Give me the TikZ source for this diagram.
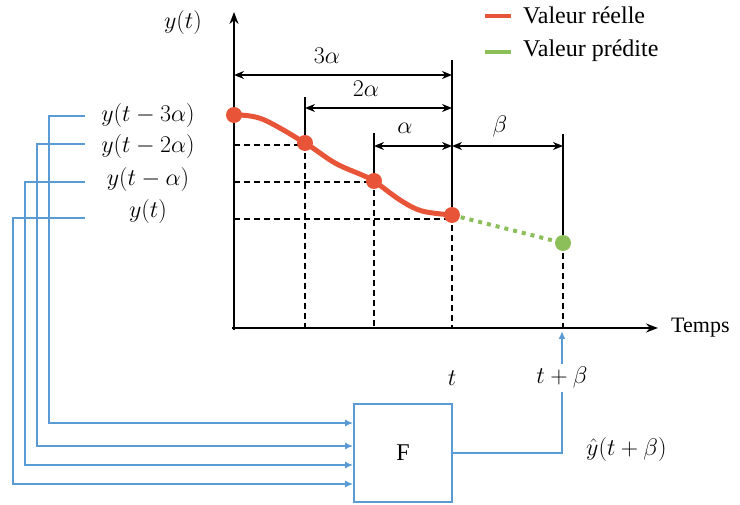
\RequirePackage{fix-cm}
\documentclass[tikz,border=0pt]{standalone}
\usepackage{fontspec}
\setmainfont{Liberation Serif}
\usetikzlibrary{arrows.meta}
\definecolor{realred}{RGB}{232,84,56}
\definecolor{predgreen}{RGB}{140,190,90}
\definecolor{linkblue}{RGB}{91,155,213}
\tikzset{
  axisline/.style={line width=1.8pt, -{Stealth[length=12pt,width=9pt]}},
  dimline/.style={line width=1.6pt, {Stealth[length=10pt,width=8pt]}-{Stealth[length=10pt,width=8pt]}},
  solidline/.style={line width=1.8pt},
  dashline/.style={line width=1.5pt, dashed, dash pattern=on 6pt off 4pt},
  rdot/.style={circle, fill=realred, inner sep=0pt, minimum size=16pt},
  gdot/.style={circle, fill=predgreen, inner sep=0pt, minimum size=16pt},
  bline/.style={draw=linkblue, line width=1.6pt},
  barrow/.style={bline, -{Latex[length=8pt,width=7pt]}},
  lbl/.style={font=\fontsize{24}{28}\selectfont, inner sep=1pt},
  txt/.style={font=\fontsize{22}{26}\selectfont, inner sep=1pt},
  legtxt/.style={font=\fontsize{24}{28}\selectfont, inner sep=1pt}
}
\begin{document}
\begin{tikzpicture}[x=1pt,y=-1pt]
\useasboundingbox (0,0) rectangle (740,505);
% axes
\coordinate (o) at (234,330);
\coordinate (ytip) at (234,12);
\coordinate (xtip) at (658,328);
\draw[axisline] (o) -- (ytip);
\draw[axisline] (232,328) -- (xtip);
\node[lbl] (ylab) at (183,23) {$y(t)$};
\node[txt, anchor=west] (temps) at (670,328) {Temps};
% dashed helpers
\draw[dashline] (234,145) -- (305,145);
\draw[dashline] (234,182) -- (374,182);
\draw[dashline] (234,219) -- (452,219);
\draw[dashline] (305,143) -- (305,328);
\draw[dashline] (374,180) -- (374,328);
\draw[dashline] (452,215) -- (452,328);
\draw[dashline] (563,243) -- (563,328);
% solid verticals
\draw[solidline] (452,60) -- (452,215);
\draw[solidline] (305,97) -- (305,143);
\draw[solidline] (374,133) -- (374,180);
\draw[solidline] (563,134) -- (563,243);
% dimensions
\draw[dimline] (234,75) -- (452,75);
\node[lbl] (d3) at (327,56) {$3\alpha$};
\draw[dimline] (305,108) -- (452,108);
\node[lbl] (d2) at (366,89) {$2\alpha$};
\draw[dimline] (374,146) -- (452,146);
\node[lbl] (d1) at (405,128) {$\alpha$};
\draw[dimline] (452,146) -- (563,146);
\node[lbl] (db) at (500,127) {$\beta$};
% prediction
\draw[predgreen, line width=4pt, dash pattern=on 4pt off 5pt] (452,215) -- (563,243);
% real curve
\draw[realred, line width=5pt, line cap=round] plot[smooth, tension=0.6] coordinates {(234,115) (262,119) (305,143) (335,163) (362,175) (374,181) (400,200) (422,211) (452,215)};
\node[rdot] (p0) at (234,115) {};
\node[rdot] (p1) at (305,143) {};
\node[rdot] (p2) at (374,181) {};
\node[rdot] (p3) at (452,215) {};
\node[gdot] (pg) at (563,243) {};
% legend
\draw[realred, line width=4pt] (485,16) -- (511,16);
\node[legtxt, anchor=west] (lr) at (522,15) {Valeur réelle};
\draw[predgreen, line width=4pt] (485,52) -- (511,52);
\node[legtxt, anchor=west] (lp) at (522,51) {Valeur prédite};
% left labels
\node[lbl] (l1) at (148,116) {$y(t-3\alpha)$};
\node[lbl] (l2) at (148,147) {$y(t-2\alpha)$};
\node[lbl] (l3) at (148,180) {$y(t-\alpha)$};
\node[lbl] (l4) at (148,212) {$y(t)$};
% box
\node[draw=linkblue, line width=1.6pt, minimum width=98pt, minimum height=98pt, font=\fontsize{24}{28}\selectfont] (F) at (403,453) {F};
% inputs
\coordinate (s1) at (85,116);
\coordinate (s2) at (85,144);
\coordinate (s3) at (85,182);
\coordinate (s4) at (85,218);
\draw[barrow] (s1) -- (49,116) |- (F.west |- 0,423);
\draw[barrow] (s2) -- (37,144) |- (F.west |- 0,446);
\draw[barrow] (s3) -- (25,182) |- (F.west |- 0,465);
\draw[barrow] (s4) -- (13,218) |- (F.west |- 0,484);
% output
\coordinate (tb) at (562,331);
\draw[barrow] (F.east) -| (tb);
\node[lbl] (tl) at (452,378) {$t$};
\node[lbl, fill=white, inner sep=3pt] (tbl) at (562,378) {$t+\beta$};
\node[lbl, anchor=west] (yhat) at (585,450) {$\hat{y}(t+\beta)$};
\end{tikzpicture}
\end{document}
